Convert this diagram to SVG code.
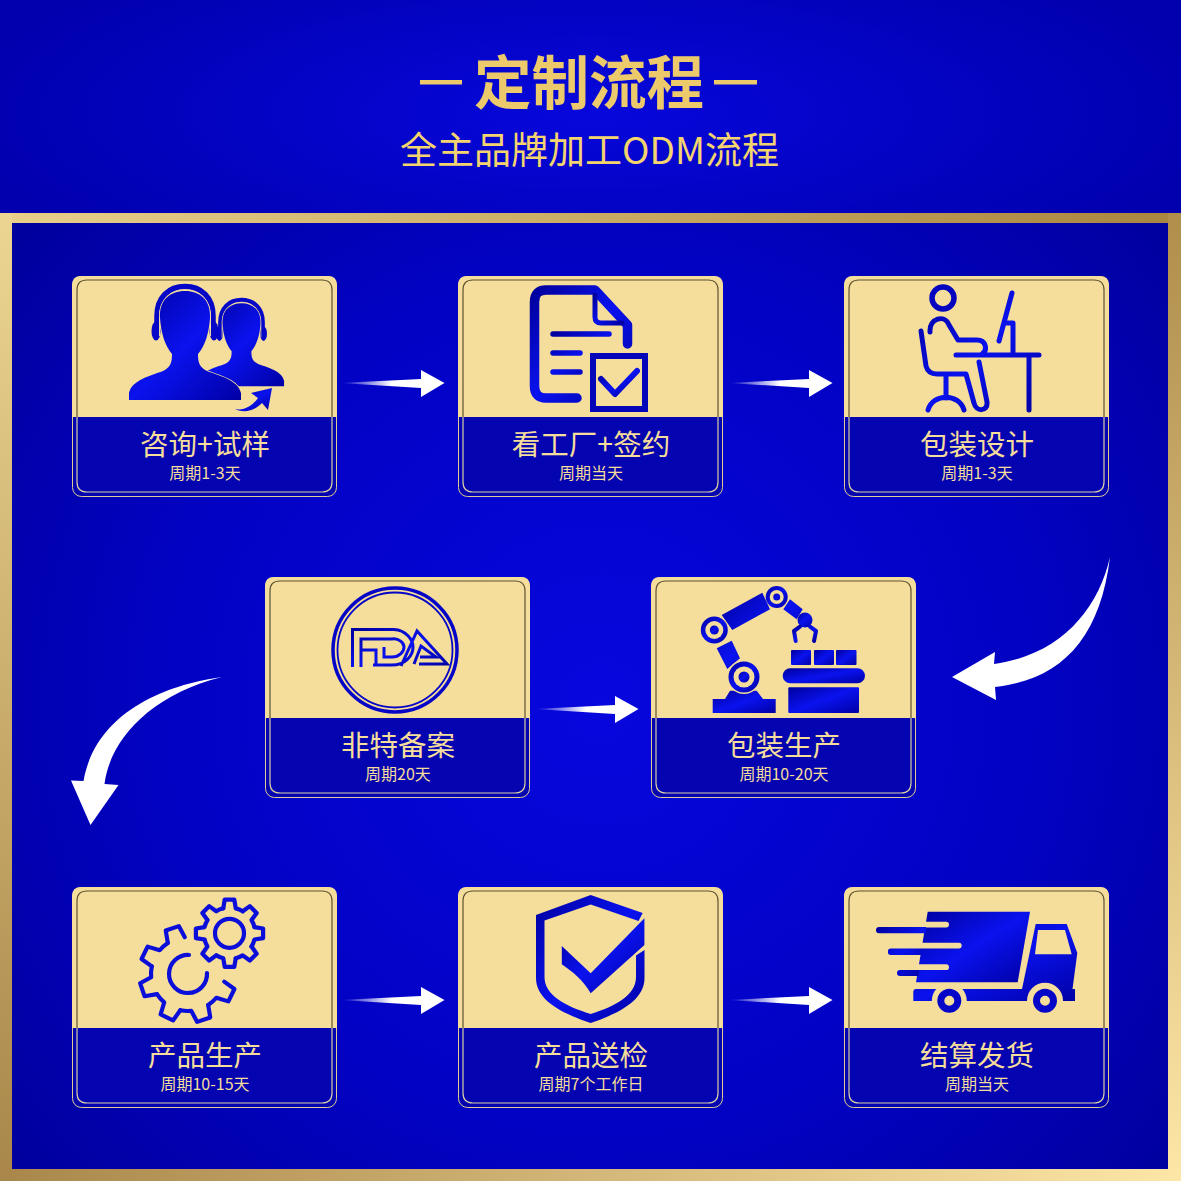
<svg xmlns="http://www.w3.org/2000/svg" xmlns:xlink="http://www.w3.org/1999/xlink" width="1181" height="1181" viewBox="0 0 1181 1181">
<style>
text{font-family:"Noto Sans CJK SC","Noto Sans",sans-serif;text-anchor:middle}
.t{font-size:28.5px;fill:#f5dd9b}
.s{font-size:16px;fill:#f5dd9b}
.f{fill:url(#ic)}
.l{fill:none;stroke:url(#ic);stroke-linecap:round;stroke-linejoin:round}
.g{fill:none;stroke:#0a0ed8;stroke-linecap:round;stroke-linejoin:round}
.c{fill:#f5dd9b}
</style>
<defs>
<radialGradient id="hd" gradientUnits="userSpaceOnUse" cx="590" cy="110" r="640" gradientTransform="translate(0 80) scale(1 .3)"><stop offset="0" stop-color="#0707dc"/><stop offset="1" stop-color="#0000ae"/></radialGradient>
<radialGradient id="bg" gradientUnits="userSpaceOnUse" cx="600" cy="700" r="780"><stop offset="0" stop-color="#0707de"/><stop offset=".55" stop-color="#0202c4"/><stop offset="1" stop-color="#00009a"/></radialGradient>
<linearGradient id="ic" x1="0" y1="0" x2="1" y2="1"><stop offset="0" stop-color="#00009e"/><stop offset=".5" stop-color="#0a12ee"/><stop offset="1" stop-color="#0000a4"/></linearGradient>
<linearGradient id="ft" x1="0" x2="1" y1="0" y2="0"><stop offset="0" stop-color="#e8d08a"/><stop offset="1" stop-color="#a9863f"/></linearGradient>
<linearGradient id="fr" x1="0" x2="0" y1="0" y2="1"><stop offset="0" stop-color="#b08e4c"/><stop offset="1" stop-color="#fde6a6"/></linearGradient>
<linearGradient id="fb" x1="0" x2="1" y1="0" y2="0"><stop offset="0" stop-color="#a9874a"/><stop offset="1" stop-color="#fde6a6"/></linearGradient>
<linearGradient id="fl" x1="0" x2="0" y1="0" y2="1"><stop offset="0" stop-color="#ecd592"/><stop offset="1" stop-color="#a9874a"/></linearGradient>
<linearGradient id="ar" x1="0" x2="1" y1="0" y2="0"><stop offset="0" stop-color="#fff" stop-opacity="0"/><stop offset=".5" stop-color="#fff"/><stop offset="1" stop-color="#fff"/></linearGradient>
<g id="card">
<rect x=".5" y=".5" width="264" height="220" rx="9" fill="#0404b0" stroke="#dccb94"/>
<path d="M0,141V9Q0,0 9,0H256Q265,0 265,9V141Z" class="c"/>
<path d="M5,141V14Q5,4 15,4H250Q260,4 260,14V141" fill="none" stroke="#5e5232" stroke-width="1.2"/>
<path d="M5,141V206Q5,216 15,216H250Q260,216 260,206V141" fill="none" stroke="#d9cfa6" stroke-width="1.2"/>
</g>
<path id="arrow" d="M0,0L81,-4V-13L104.500,0L81,14V5Z" fill="url(#ar)"/>
<g id="person">
<path d="M157,336V316C157,297 169,286.500 185,286.500C201,286.500 213,297 213,316V336" fill="none" stroke="#0606c8" stroke-width="5.500"/>
<ellipse cx="156" cy="331" rx="4.500" ry="9.500" fill="#0606c8"/><ellipse cx="214" cy="331" rx="4.500" ry="9.500" fill="#0606c8"/>
<path d="M159.500,336V316C159.500,300 171,289.500 185,289.500C199,289.500 210.500,300 210.500,316V336" fill="none" stroke="#e8d8a8" stroke-width="1"/>
<path class="f" d="M129,400V393C132,380 150,376 163,371C171,367 172,362 172,354C165,346 161,333 160,318C159,300 170,291 185,291C200,291 211,300 210,318C209,333 205,346 198,354C198,362 199,367 207,371C220,376 238,380 241,393V400Z" stroke="#f5dd9b" stroke-width="1.500" paint-order="stroke"/>
</g>
<path id="gs" d="M-6.500,-26L-5,-35H5L6.500,-26A26.800,26.800 0 0 1 13.800,-23"/>
<path id="gb" d="M-6.500,-26L-5,-35H5L6.500,-26"/>
</defs>

<g id="background">
<rect width="1181" height="1181" fill="#0000b0"/>
<rect width="1181" height="214" fill="url(#hd)"/>
<rect x="12" y="223" width="1156" height="946" fill="url(#bg)"/>
<rect y="213" width="1181" height="10" fill="url(#ft)"/>
<rect x="1168" y="213" width="13" height="968" fill="url(#fr)"/>
<rect y="1169" width="1181" height="12" fill="url(#fb)"/>
<rect y="213" width="12" height="968" fill="url(#fl)"/>
</g>

<g id="header">
<rect x="420" y="80" width="42" height="4.500" fill="#ecc96a"/>
<rect x="714" y="80" width="43" height="4.500" fill="#ecc96a"/>
<text x="589" y="104" font-size="57.500" font-weight="700" fill="#ecc96a">定制流程</text>
<text x="589.500" y="164" font-size="37" fill="#f4d46e">全主品牌加工ODM流程</text>
</g>

<g id="connectors">
<use xlink:href="#arrow" href="#arrow" x="340" y="383"/>
<use xlink:href="#arrow" href="#arrow" x="728" y="383"/>
<use xlink:href="#arrow" href="#arrow" x="534" y="709"/>
<use xlink:href="#arrow" href="#arrow" x="340" y="1000"/>
<use xlink:href="#arrow" href="#arrow" x="728" y="1000"/>
<path d="M1110,557C1098,610 1060,655 994,664L995,652L952,677L996,700L995,687C1060,680 1100,640 1110,557Z" fill="#fff"/>
<path d="M222,677C170,684 96,710 83.500,781L71,780.500L90.500,825L118.500,785L104.500,784C110,740 150,695 222,677Z" fill="#fff"/>
</g>

<g id="node-consult">
<use href="#card" x="72" y="276"/>
<use href="#person" transform="translate(241.500 298) scale(.76) translate(-185 -284)"/>
<use href="#person"/>
<path class="f" d="M235,409C245,411 253,405 258,398L251,393L272,388L268,410L262,403C255,410 245,414 235,409Z"/>
<text class="t" x="205" y="455">咨询+试样</text>
<text class="s" x="205" y="479">周期1-3天</text>
</g>

<g id="node-factory">
<use href="#card" x="458" y="276"/>
<path class="l" stroke-width="9.500" d="M577,398H546Q534.500,398 534.500,386V302Q534.500,290 546,290H595L627.500,325V344"/>
<path class="l" stroke-width="5" d="M595,295V317Q595,323 601,323H622"/>
<path class="l" stroke-width="5.500" d="M553,334H609M553,353H580M553,372H580"/>
<rect x="593" y="356" width="52" height="53" fill="none" stroke="#0404b8" stroke-width="6"/>
<path class="l" stroke-width="6" d="M601,379L615,394L637,371"/>
<text class="t" x="591" y="455">看工厂+签约</text>
<text class="s" x="591" y="479">周期当天</text>
</g>

<g id="node-design">
<use href="#card" x="844" y="276"/>
<ellipse cx="943" cy="298" rx="11" ry="11" fill="none" stroke="#0505c0" stroke-width="5.500"/>
<path class="l" stroke-width="5" d="M921,331L926,366Q928,374 937,374H966L974,403C976,412 988,412 987,402L979,362M946,374V398M928,410C933,393 959,393 964,410M930,332C929,318 945,314 949,325L958,340H977C986,340 988,350 982,354M956,355H1039M1029,355V410M1012,293L999,341M1006,323H1013V354"/>
<text class="t" x="977" y="455">包装设计</text>
<text class="s" x="977" y="479">周期1-3天</text>
</g>

<g id="node-fda">
<use href="#card" x="265" y="577"/>
<circle cx="395" cy="650" r="62" fill="none" stroke="#0505c8" stroke-width="3.500"/>
<circle cx="395" cy="650" r="57.500" fill="none" stroke="#0505c8" stroke-width="1.800"/>
<path class="l" style="stroke-linecap:butt;stroke-linejoin:miter" stroke-width="3" d="M352.500,667V629.500H394C406,630 413,640 413,647C413,656 405,665 392,665H373M361,667V639H392C399,638 404,643 404,647C404,652 399,657 392,657H384V647M361,650H376V665M401,666L417,631L447,664H419M414,664L421,646L436,657H420"/>
<text class="t" x="398" y="756">非特备案</text>
<text class="s" x="398" y="780">周期20天</text>
</g>

<g id="node-packaging">
<use href="#card" x="651" y="577"/>
<path class="f" d="M721.700,615L762.300,592.700L770,609.300L732.300,630ZM716.700,648.300L731.700,640.700L740,658.300L727.300,669ZM790,599.300L802.700,609.300L796.700,619.300L783.300,609.300Z"/>
<path class="f" d="M730,690.700H756.700L763,699H775.700V713H712.700V699H725Z"/>
<circle cx="744" cy="677" r="17" class="c"/><circle cx="744" cy="677" r="15.500" class="f"/><circle cx="744" cy="677" r="10.500" class="c"/><circle cx="744" cy="677" r="5.500" class="f"/>
<circle cx="714.300" cy="630" r="13.500" class="f"/><circle cx="714.300" cy="630" r="9" class="c"/><circle cx="714.300" cy="630" r="4.500" class="f"/>
<circle cx="776.700" cy="597" r="11" class="f"/><circle cx="776.700" cy="597" r="7" class="c"/><circle cx="776.700" cy="597" r="3.500" class="f"/>
<circle cx="805" cy="620" r="7.500" class="f"/>
<path class="l" stroke-width="4" d="M795.700,641L794,631L800,626.700M814,641L816,631L810,626.700"/>
<rect x="791" y="650" width="20" height="15" rx="1" class="f"/><rect x="814" y="650" width="20" height="15" rx="1" class="f"/><rect x="836" y="650" width="20.500" height="15" rx="1" class="f"/>
<rect x="782.700" y="668.300" width="82.300" height="15" rx="7.500" class="f"/>
<rect x="788.300" y="687.300" width="70.700" height="25.700" rx="1" class="f"/>
<text class="t" x="784" y="756">包装生产</text>
<text class="s" x="784" y="780">周期10-20天</text>
</g>

<g id="node-production">
<use href="#card" x="72" y="887"/>
<g class="g" stroke-width="4.200">
<circle cx="229.500" cy="933.300" r="14.500"/>
<path d="M207,973A19,19 0 1 1 189,955"/>
</g>
<g class="g" stroke-width="4.400" transform="translate(229.500 933.300) scale(.96)">
<use href="#gs"/><use href="#gs" transform="rotate(45)"/><use href="#gs" transform="rotate(90)"/><use href="#gs" transform="rotate(135)"/><use href="#gs" transform="rotate(180)"/><use href="#gs" transform="rotate(225)"/><use href="#gs" transform="rotate(270)"/><use href="#gs" transform="rotate(315)"/>
</g>
<g class="g" stroke-width="3" transform="translate(188 974) scale(1.38)">
<use href="#gs" transform="rotate(116)"/><use href="#gs" transform="rotate(161)"/><use href="#gs" transform="rotate(206)"/><use href="#gs" transform="rotate(251)"/><use href="#gs" transform="rotate(296)"/><use href="#gb" transform="rotate(341)"/>
</g>
<text class="t" x="205" y="1066">产品生产</text>
<text class="s" x="205" y="1090">周期10-15天</text>
</g>

<g id="node-inspection">
<use href="#card" x="458" y="887"/>
<path class="f" d="M536,915L590.700,895L642.700,913L638.500,921L590.700,904.500L544.500,920.500V977C544.500,995 565,1006 590.700,1014C616,1006 636,995 636,977V955.500L644.500,950V978C644.500,1000 620,1013 590.700,1023C561,1013 536,1000 536,978Z"/>
<path class="f" d="M561.800,946L590.700,973.300L644.400,918.300V945L590.700,993.300C583,980 573,972 561.800,964.300Z"/>
<text class="t" x="591" y="1066">产品送检</text>
<text class="s" x="591" y="1090">周期7个工作日</text>
</g>

<g id="node-delivery">
<use href="#card" x="844" y="887"/>
<path class="f" d="M927.700,911.700H1030L1017.700,982.300H916Z"/>
<rect x="905" y="921.700" width="44" height="5.800" rx="2.900" class="c"/>
<rect x="905" y="942.700" width="56.700" height="5.800" rx="2.900" class="c"/>
<rect x="905" y="964.300" width="44" height="5.800" rx="2.900" class="c"/>
<path class="f" d="M876,930a3,3 0 0 1 3,-3H926V933.300H879a3,3 0 0 1 -3,-3ZM888,951.700a3,3 0 0 1 3,-3.200H922V955H891a3,3 0 0 1 -3,-3.300ZM897,973a3,3 0 0 1 3,-3H919V976H900a3,3 0 0 1 -3,-3Z"/>
<path class="f" d="M1035.700,924H1066.700L1077.300,953L1072.500,989H1075V1001H913.300V992Q913.300,989 916,989H1022Z"/>
<path class="c" d="M1038,930H1065L1071.700,954.300H1035Z"/>
<circle cx="949.300" cy="1000.700" r="17.500" class="c"/><circle cx="1045" cy="1000.700" r="18" class="c"/>
<rect x="905" y="1001" width="180" height="14" class="c"/>
<circle cx="949.300" cy="1000.700" r="8.500" fill="none" stroke="#0606c8" stroke-width="7"/>
<circle cx="1045" cy="1000.700" r="8.500" fill="none" stroke="#0606c8" stroke-width="7"/>
<text class="t" x="977" y="1066">结算发货</text>
<text class="s" x="977" y="1090">周期当天</text>
</g>
</svg>
